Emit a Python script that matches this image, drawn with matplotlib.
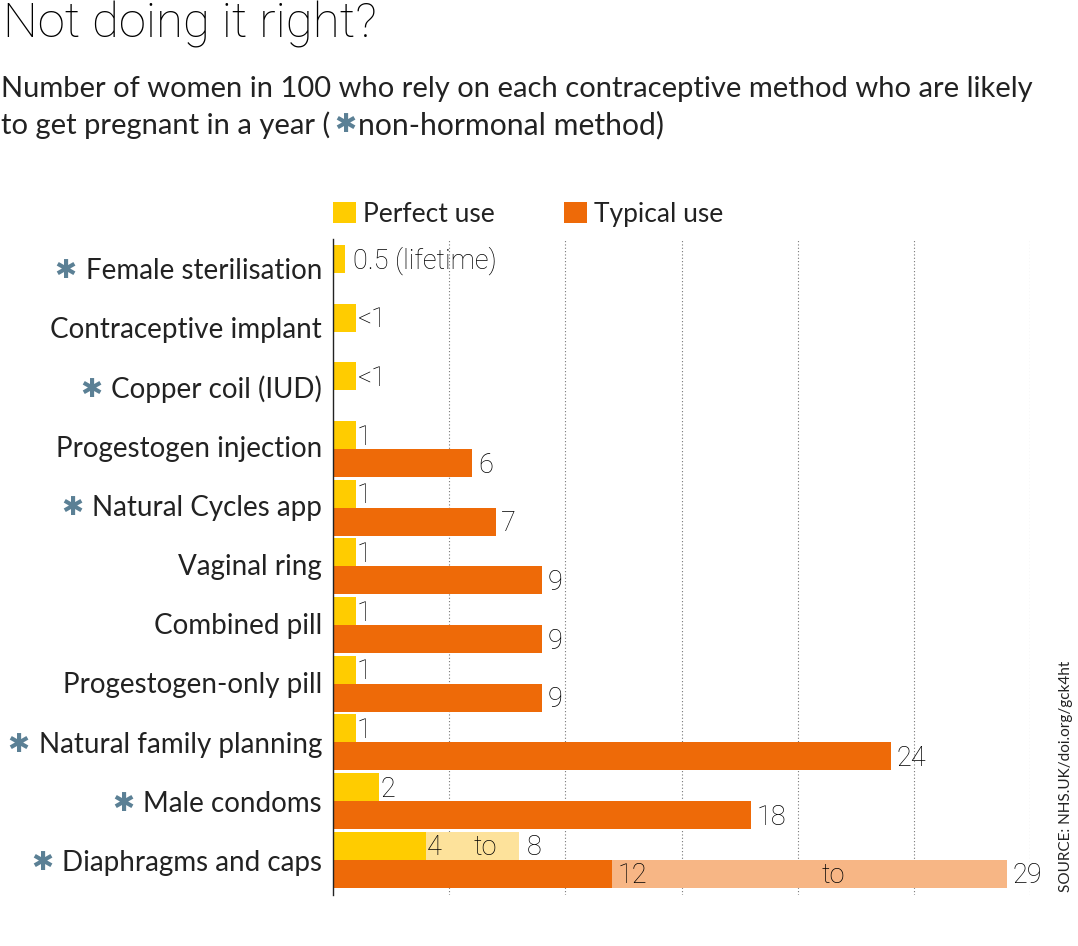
import numpy as np
import matplotlib
matplotlib.use('Agg')
import matplotlib.pyplot as plt

plt.rcParams['font.family'] = ['Lato', 'DejaVu Sans']
LIGHT = ['Roboto', 'DejaVu Sans']

methods = ['Female sterilisation', 'Contraceptive implant', 'Copper coil (IUD)',
           'Progestogen injection', 'Natural Cycles app', 'Vaginal ring', 'Combined pill',
           'Progestogen-only pill', 'Natural family planning', 'Male condoms',
           'Diaphragms and caps']
non_hormonal = [True, False, True, False, True, False, False, False, True, True, True]
perfect = [0.5, 1, 1, 1, 1, 1, 1, 1, 1, 2, 4]
perfect_labels = ['0.5 (lifetime)', '<1', '<1', '1', '1', '1', '1', '1', '1', '2', '4']
typical = [0, 0, 0, 6, 7, 9, 9, 9, 24, 18, 12]
typical_labels = ['', '', '', '6', '7', '9', '9', '9', '24', '18', '12']
perfect_max = 8
typical_max = 29

W, H = 1078, 946
YELLOW = '#ffcc00'
ORANGE = '#ee6a08'
PALE_YELLOW = '#fde29b'
PALE_ORANGE = '#f7b685'
STAR = '#5b8095'
INK = '#222222'

fig = plt.figure(figsize=(W / 100, H / 100), dpi=100)
ax = fig.add_axes([333 / W, 1 - 895 / H, (1030 - 333) / W, (895 - 239) / H])

rows = np.arange(len(methods))
h = 0.477
ax.set_xlim(0, 30)
ax.set_ylim(10.6, -0.58)

b1 = ax.barh(rows - h / 2, perfect, height=h, color=YELLOW, zorder=3, label='Perfect use')
b2 = ax.barh(rows + h / 2, typical, height=h, color=ORANGE, zorder=3, label='Typical use')
# ranges on the last row
ax.barh(rows[-1] - h / 2, perfect_max - perfect[-1], left=perfect[-1], height=h, color=PALE_YELLOW, zorder=2)
ax.barh(rows[-1] + h / 2, typical_max - typical[-1], left=typical[-1], height=h, color=PALE_ORANGE, zorder=2)

ax.set_xticks(np.arange(5, 31, 5))
ax.grid(axis='x', color='#777777', linestyle=(0, (1, 2)), linewidth=0.8, zorder=0)
ax.tick_params(left=False, bottom=False, labelbottom=False, labelleft=False)
for s in ['top', 'right', 'bottom']:
    ax.spines[s].set_visible(False)
ax.spines['left'].set_color('#222222')
ax.spines['left'].set_linewidth(1)
ax.spines['left'].set_zorder(5)

VAL = 19.5
LAB = 20
offs = {0: 6, 1: 1.5, 2: 1.5}


def value_label(text, x, y, dx, ha='left'):
    ax.annotate(text, (x, y), xytext=(dx, -1.5), textcoords='offset points', va='center', ha=ha,
                fontsize=VAL, color='black', zorder=6, family=LIGHT, fontweight='light')


for i in rows:
    value_label(perfect_labels[i], perfect[i], i - h / 2, offs.get(i, 0.5))
    if typical_labels[i]:
        value_label(typical_labels[i], typical[i], i + h / 2, 4)

last = rows[-1]
value_label('to', (perfect[-1] + perfect_max) / 2, last - h / 2, 9, ha='center')
value_label(str(perfect_max), perfect_max, last - h / 2, 6)
value_label('to', (typical[-1] + typical_max) / 2, last + h / 2, 17, ha='center')
value_label(str(typical_max), typical_max, last + h / 2, 4)

# category labels with the star just left of them
fig.canvas.draw()
renderer = fig.canvas.get_renderer()
for i in rows:
    ypos = i * 1.0085 - 0.03
    t = ax.annotate(methods[i], (0, ypos), xytext=(-8, 0), textcoords='offset points',
                    ha='right', va='center', fontsize=LAB, color=INK)
    if non_hormonal[i]:
        left = t.get_window_extent(renderer).x0
        ax.annotate('\u2731', (0, ypos), xycoords=('figure fraction', 'data'),
                    xytext=(left - 20, 0), textcoords=('figure pixels', 'offset points'),
                    family='DejaVu Sans', ha='center', va='center', fontsize=19, color=STAR)

leg = ax.legend(handles=[b1, b2], loc='lower left', bbox_to_anchor=(-0.0176, 1.0), ncols=2, frameon=False,
                fontsize=19, handlelength=0.87, handleheight=0.87, handletextpad=0.27,
                columnspacing=2.62, borderaxespad=0.47, borderpad=0, labelcolor=INK)

fig.text(3 / W, 1 - 25 / H, 'Not doing it right?', fontsize=35.5, fontweight='light', family=LIGHT, color='black',
         ha='left', va='center')
fig.text(1 / W, 1 - 89.5 / H, 'Number of women in 100 who rely on each contraceptive method who are likely',
         fontsize=21, color=INK, ha='left', va='center')
fig.text(1 / W, 1 - 125.5 / H, 'to get pregnant in a year (', fontsize=21, color=INK, ha='left', va='center')
fig.text(345 / W, 1 - 125 / H, '\u2731', family='DejaVu Sans', fontsize=19, color=STAR, ha='center', va='center')
fig.text(358 / W, 1 - 125.5 / H, 'non-hormonal method)', fontsize=21.7, color=INK, ha='left', va='center')
fig.text(1066 / W, 1 - 892 / H, 'SOURCE: NHS.UK/doi.org/gck4ht', rotation=90, fontsize=11, color=INK,
         ha='center', va='bottom')

fig.savefig('out.png', dpi=100)
